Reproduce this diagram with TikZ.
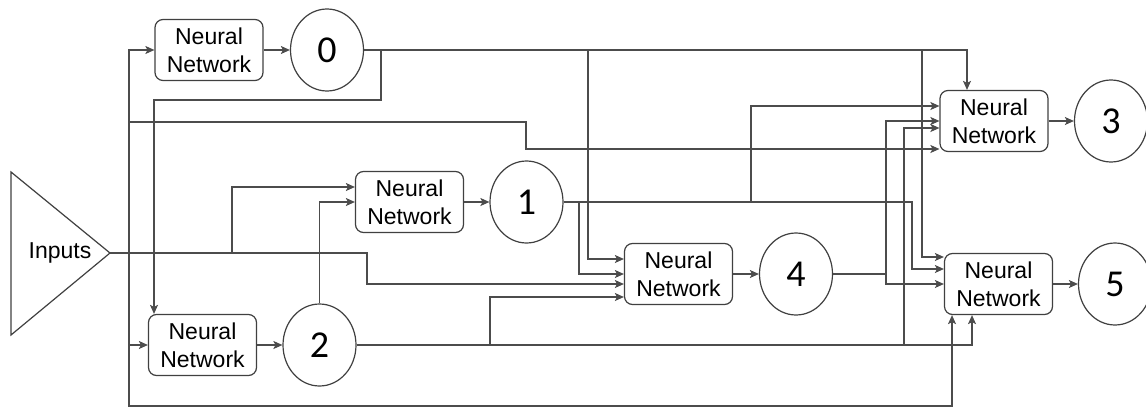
\documentclass[tikz,border=0pt]{standalone}
\usepackage{fontspec}
\setmainfont{Liberation Sans}
\newfontfamily\digitfont{Carlito}
\usetikzlibrary{arrows.meta,shapes.geometric}
\begin{document}
\begin{tikzpicture}[x=0.5pt, y=-0.5pt,
        nn/.style={draw=black!75, line width=0.6pt, rounded corners=4pt, minimum width=54pt, minimum height=30.5pt, inner sep=0pt, align=center, font=\fontsize{11.5}{14}\selectfont},
        outnode/.style={ellipse, draw=black!75, line width=0.6pt, minimum width=36.5pt, minimum height=41pt, inner sep=0pt, font=\digitfont\fontsize{19}{22}\selectfont},
        conn/.style={draw=black!70, line width=0.55pt, -{Stealth[length=4.5pt, width=4pt, inset=1pt]}}]
    \useasboundingbox (0,0) rectangle (1146,407);

    \draw[draw=black!75, line width=0.6pt] (11,172) -- (110,253) coordinate (in) -- (11,335) -- cycle;
    \node[font=\fontsize{11.5}{14}\selectfont] (inlabel) at (60,253) {Inputs};
    \coordinate (inbus) at (129,253);

    \node[nn] (nn0) at (209,50) {Neural\\Network};
    \node[outnode] (c0) at (327,50) {0};
    \node[nn] (nn1) at (409.5,202) {Neural\\Network};
    \node[outnode] (c1) at (526.5,202) {1};
    \node[nn] (nn2) at (202.5,345) {Neural\\Network};
    \node[outnode] (c2) at (319.5,345) {2};
    \node[nn] (nn4) at (678.5,274) {Neural\\Network};
    \node[outnode] (c4) at (796,274) {4};
    \node[nn] (nn3) at (994,121) {Neural\\Network};
    \node[outnode] (c3) at (1111,121) {3};
    \node[nn] (nn5) at (998.5,284) {Neural\\Network};
    \node[outnode] (c5) at (1115,284) {5};

    \draw[conn] (in) -- (inbus) |- (nn0);
    \draw[conn] (inbus) |- (nn2);
    \draw[conn] (inbus) -- (129,406) -| ([xshift=-23.25pt]nn5.south);
    \draw[conn] (inbus) |- (526,122) |- ([yshift=-14pt]nn3.west);
    \draw[conn] (in) -- (232,253) |- ([yshift=7.5pt]nn1.west);
    \draw[conn] (in) -- (367,253) |- ([yshift=-5pt]nn4.west);

    \draw[conn] (c0) -| ([xshift=-13.5pt]nn3.north);
    \draw[conn] (c0) -| (381,100) -| ([xshift=-24.25pt]nn2.north);
    \draw[conn] (c0) -| (588,259) -- ([yshift=7.5pt]nn4.west);
    \draw[conn] (c0) -| (922,257) -- ([yshift=13.5pt]nn5.west);

    \draw[conn] (c1) -| (579,274) -- (nn4.west);
    \draw[conn] (c1) -| (751,106) -- ([yshift=7.5pt]nn3.west);
    \draw[conn] (c1) -| (912,269) -- ([yshift=7.5pt]nn5.west);

    \draw[conn] (c2.north) |- (nn1);
    \draw[conn] (c2) -| (490,297) -- ([yshift=-11.5pt]nn4.west);
    \draw[conn] (c2) -| (904,128) -- ([yshift=-3.5pt]nn3.west);
    \draw[conn] (c2) -| ([xshift=-13.25pt]nn5.south);

    \draw[conn] (c4) -| (886,121) -- (nn3.west);
    \draw[conn] (c4) -- (886,274) |- (nn5);

    \draw[conn] (nn0) -- (c0);
    \draw[conn] (nn1) -- (c1);
    \draw[conn] (nn2) -- (c2);
    \draw[conn] (nn4) -- (c4);
    \draw[conn] (nn3) -- (c3);
    \draw[conn] (nn5) -- (c5);
\end{tikzpicture}
\end{document}
